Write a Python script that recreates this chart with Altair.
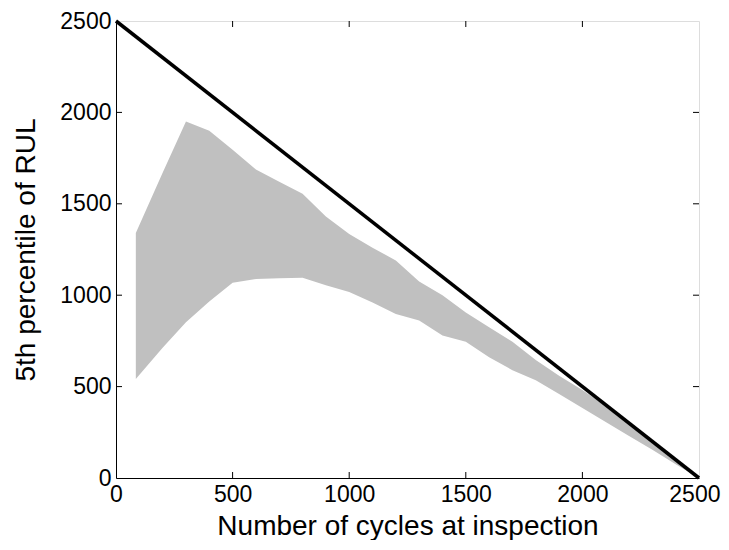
import altair as alt
import pandas as pd

# Inspection cycles and band of 5th-percentile RUL
x_insp = [85, 200, 300, 400, 500, 600, 700, 800, 900, 1000, 1100, 1200, 1300,
          1400, 1500, 1600, 1700, 1800, 1900, 2000, 2100, 2200, 2300, 2400, 2500]
band_upper = [1340, 1670, 1950, 1900, 1795, 1688, 1620, 1555, 1430, 1335, 1260,
              1190, 1075, 1000, 905, 825, 745, 645, 560, 482, 394, 297, 197, 98, 0]
band_lower = [542, 713, 852, 965, 1068, 1088, 1093, 1095, 1055, 1018, 960, 897,
              862, 780, 745, 661, 590, 535, 460, 383, 307, 230, 155, 75, 0]

# True RUL line
line_x = [0, 2500]
line_y = [2500, 0]

tick_values = [0, 500, 1000, 1500, 2000, 2500]
inner_ticks = [500, 1000, 1500, 2000]

W, H = 583, 457
FONT = "Liberation Sans"

band_df = pd.DataFrame({"x": x_insp, "lo": band_lower, "hi": band_upper})
line_df = pd.DataFrame({"x": line_x, "y": line_y})
tick_df = pd.DataFrame({"t": inner_ticks})

xscale = alt.Scale(domain=[0, 2500], nice=False, zero=False)
yscale = alt.Scale(domain=[0, 2500], nice=False, zero=False)

common = dict(values=tick_values, format="d", grid=False, tickSize=0,
              labelFontSize=23, titleFontSize=28, labelColor="black",
              titleColor="black", titleFontWeight="normal",
              domainColor="black", labelFont=FONT, titleFont=FONT)
xaxis = alt.Axis(title="Number of cycles at inspection", labelPadding=5,
                 titlePadding=6, labelFlush=False,
                 labelAlign={"condition": {"test": "datum.value == 2500", "value": "right"},
                             "value": "center"},
                 labelOffset={"condition": {"test": "datum.value == 2500", "value": 21},
                              "value": 0},
                 **common)
yaxis = alt.Axis(title="5th percentile of RUL", labelPadding=5,
                 titlePadding=19, **common)

band = alt.Chart(band_df).mark_area(color="#c0c0c0", opacity=1).encode(
    x=alt.X("x:Q", scale=xscale, axis=xaxis),
    y=alt.Y("lo:Q", scale=yscale, axis=yaxis),
    y2="hi:Q",
)

line = alt.Chart(line_df).mark_line(color="black", strokeWidth=3.5).encode(
    x=alt.X("x:Q", scale=xscale),
    y=alt.Y("y:Q", scale=yscale),
)

tick_len = 6
bottom_ticks = alt.Chart(tick_df).mark_rule(color="black", strokeWidth=1).encode(
    x=alt.X("t:Q", scale=xscale), y=alt.value(H), y2=alt.value(H - tick_len))
top_ticks = alt.Chart(tick_df).mark_rule(color="black", strokeWidth=1).encode(
    x=alt.X("t:Q", scale=xscale), y=alt.value(0), y2=alt.value(tick_len))
left_ticks = alt.Chart(tick_df).mark_rule(color="black", strokeWidth=1).encode(
    y=alt.Y("t:Q", scale=yscale), x=alt.value(0), x2=alt.value(tick_len))
right_ticks = alt.Chart(tick_df).mark_rule(color="black", strokeWidth=1).encode(
    y=alt.Y("t:Q", scale=yscale), x=alt.value(W), x2=alt.value(W - tick_len))

chart = alt.layer(band, line, bottom_ticks, top_ticks, left_ticks, right_ticks).properties(
    width=W, height=H,
    autosize=alt.AutoSizeParams(type="none"),
    padding={"left": 108, "top": 13, "right": 22, "bottom": 62},
).configure_view(stroke="black", strokeWidth=1.2).configure(background="white")

chart.save("out.html", embed_options={"renderer": "svg", "actions": False})
